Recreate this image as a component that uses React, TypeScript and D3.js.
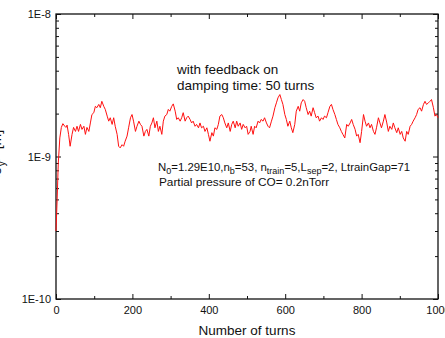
import { useEffect, useRef } from 'react';
import * as d3 from 'd3';

// ─── Data ───────────────────────────────────────────────────

const W = 445;
const H = 338;

// turn number of each sample
const turns = [
  0, 3, 6, 10, 14, 18, 23, 26, 29, 33,
  37, 42, 46, 51, 55, 59, 64, 68, 73, 77,
  81, 86, 90, 94, 99, 103, 107, 112, 116, 120,
  125, 129, 134, 138, 142, 147, 151, 155, 160, 164,
  168, 173, 177, 181, 186, 190, 195, 199, 203, 208,
  212, 217, 221, 225, 230, 234, 238, 243, 247, 251,
  255, 259, 264, 268, 272, 277, 281, 285, 290, 294,
  298, 303, 307, 312, 316, 320, 325, 329, 333, 338,
  342, 346, 351, 355, 359, 364, 368, 373, 377, 381,
  386, 390, 395, 399, 403, 408, 412, 416, 421, 425,
  429, 434, 438, 442, 447, 451, 456, 460, 464, 469,
  473, 477, 482, 486, 490, 495, 499, 503, 508, 511,
  516, 520, 524, 529, 533, 537, 542, 546, 551, 555,
  559, 564, 568, 573, 577, 581, 586, 590, 594, 599,
  603, 607, 612, 616, 620, 625, 629, 634, 638, 642,
  647, 651, 655, 660, 664, 668, 673, 677, 681, 686,
  690, 695, 699, 703, 708, 712, 717, 721, 725, 730,
  734, 738, 743, 747, 751, 756, 761, 765, 770, 774,
  778, 783, 787, 791, 796, 800, 805, 809, 813, 818,
  822, 826, 831, 835, 839, 844, 848, 852, 857, 861,
  866, 870, 874, 879, 883, 887, 892, 896, 901, 905,
  909, 914, 918, 922, 927, 931, 935, 940, 944, 948,
  953, 957, 962, 966, 970, 975, 979, 983, 988, 992,
  996, 1000,
];

// vertical size, in units of 1E-9
const sigmaY = [
  0.30, 0.50, 0.90, 1.35, 1.60, 1.70, 1.63, 1.60, 1.66, 1.43,
  1.18, 1.43, 1.60, 1.50, 1.63, 1.50, 1.68, 1.55, 1.63, 1.43,
  1.60, 1.50, 1.72, 1.97, 2.03, 2.25, 2.20, 2.32, 2.20, 2.44,
  2.25, 2.14, 1.92, 1.77, 1.87, 1.68, 1.87, 1.63, 1.43, 1.18,
  1.15, 1.21, 1.18, 1.28, 1.39, 1.59, 1.87, 1.97, 1.77, 1.50,
  1.63, 1.77, 1.68, 1.63, 1.39, 1.50, 1.55, 1.39, 1.63, 1.72,
  1.87, 1.59, 1.77, 1.50, 1.63, 1.43, 1.77, 1.92, 1.97, 2.14,
  2.08, 2.25, 2.34, 2.08, 1.82, 1.87, 1.77, 1.87, 2.03, 1.77,
  1.87, 1.92, 1.82, 1.72, 1.77, 1.63, 1.68, 1.59, 1.72, 1.59,
  1.63, 1.50, 1.59, 1.43, 1.28, 1.47, 1.39, 1.59, 1.55, 1.68,
  1.92, 1.97, 1.87, 1.72, 1.59, 1.72, 1.50, 1.68, 1.77, 1.59,
  1.77, 1.63, 1.72, 1.55, 1.68, 1.59, 1.63, 1.43, 1.50, 1.63,
  1.43, 1.63, 1.59, 1.77, 1.72, 1.82, 1.77, 1.87, 1.72, 1.63,
  1.59, 1.77, 1.92, 2.20, 2.38, 2.58, 2.72, 2.51, 2.32, 1.97,
  1.82, 1.63, 1.77, 1.59, 1.47, 1.68, 2.08, 2.25, 2.08, 2.38,
  2.51, 2.44, 2.20, 1.97, 2.08, 1.92, 2.20, 2.03, 1.87, 1.92,
  1.77, 1.87, 1.82, 1.92, 1.87, 2.03, 2.25, 2.32, 2.14, 1.97,
  1.82, 1.68, 1.59, 1.50, 1.43, 1.35, 1.68, 1.63, 1.72, 1.82,
  1.68, 1.55, 1.39, 1.43, 1.25, 1.50, 1.97, 1.77, 1.63, 1.72,
  1.59, 1.68, 1.50, 1.43, 1.59, 1.87, 1.72, 1.59, 1.77, 1.97,
  1.72, 1.50, 1.63, 1.55, 1.72, 1.59, 1.47, 1.59, 1.43, 1.50,
  1.35, 1.28, 1.50, 1.43, 1.63, 1.68, 1.77, 1.87, 1.97, 2.14,
  2.20, 2.08, 2.32, 2.44, 2.32, 2.38, 2.44, 2.51, 2.20, 1.92,
  1.97, 1.87,
];

const xMajorTicks = [0, 200, 400, 600, 800, 1000];
const xMinorTicks = [100, 300, 500, 700, 900];
const yMajorTicks = [1e-10, 1e-9, 1e-8];
const yTickLabels = ['1E-10', '1E-9', '1E-8'];
const xTitle = 'Number of turns';
const noteLines = ['with feedback on', 'damping time: 50 turns'];
// [text, isSubscript]
const paramLine: [string, boolean][] = [
  ['N', false], ['0', true], ['=1.29E10,n', false], ['b', true],
  ['=53, n', false], ['train', true], ['=5,L', false], ['sep', true],
  ['=2, LtrainGap=71', false],
];
const pressureLine = 'Partial pressure of CO= 0.2nTorr';

const FONT = '"Liberation Sans", Arial, sans-serif';

// ─── Component ──────────────────────────────────────────────

export default function App() {
  const svgRef = useRef<SVGSVGElement>(null);

  useEffect(() => {
    if (!svgRef.current) return;
    const svg = d3.select(svgRef.current);
    svg.selectAll('*').remove();

    const left = 56, right = 438, top = 14, bottom = 299;

    const x = d3.scaleLinear().domain([0, 1000]).range([left, right]);
    const y = d3.scaleLog().domain([1e-10, 1e-8]).range([bottom, top]);

    const yMinorTicks = [1e-10, 1e-9].flatMap((d) => d3.range(2, 10).map((k) => k * d));

    const styleAxis = (sel: d3.Selection<SVGGElement, unknown, null, undefined>) => {
      sel.select('.domain').remove();
      sel.selectAll('line').attr('stroke', '#111').attr('stroke-width', 1);
      sel.selectAll('text').attr('fill', '#111').attr('font-size', '11px').attr('font-family', FONT);
    };

    // Bottom axis
    svg.append('g').attr('transform', `translate(0,${bottom})`)
      .call(d3.axisBottom(x).tickValues(xMajorTicks).tickSize(-5).tickPadding(7).tickFormat(d3.format('d')))
      .call(styleAxis);
    svg.append('g').attr('transform', `translate(0,${bottom})`)
      .call(d3.axisBottom(x).tickValues(xMinorTicks).tickSize(-3).tickFormat(() => ''))
      .call(styleAxis);

    // Top axis
    svg.append('g').attr('transform', `translate(0,${top})`)
      .call(d3.axisTop(x).tickValues(xMajorTicks).tickSize(-5).tickFormat(() => ''))
      .call(styleAxis);
    svg.append('g').attr('transform', `translate(0,${top})`)
      .call(d3.axisTop(x).tickValues(xMinorTicks).tickSize(-3).tickFormat(() => ''))
      .call(styleAxis);

    // Left axis
    svg.append('g').attr('transform', `translate(${left},0)`)
      .call(d3.axisLeft(y).tickValues(yMajorTicks).tickSize(-5).tickPadding(5)
        .tickFormat((_, i) => yTickLabels[i]))
      .call(styleAxis);
    svg.append('g').attr('transform', `translate(${left},0)`)
      .call(d3.axisLeft(y).tickValues(yMinorTicks).tickSize(-3).tickFormat(() => ''))
      .call(styleAxis);

    // Right axis
    svg.append('g').attr('transform', `translate(${right},0)`)
      .call(d3.axisRight(y).tickValues(yMajorTicks).tickSize(-5).tickFormat(() => ''))
      .call(styleAxis);
    svg.append('g').attr('transform', `translate(${right},0)`)
      .call(d3.axisRight(y).tickValues(yMinorTicks).tickSize(-3).tickFormat(() => ''))
      .call(styleAxis);

    // Frame
    svg.append('rect')
      .attr('x', left).attr('y', top)
      .attr('width', right - left).attr('height', bottom - top)
      .attr('fill', 'none').attr('stroke', '#111').attr('stroke-width', 1.3);

    // Data line
    const pts = d3.zip(turns, sigmaY) as [number, number][];
    const line = d3.line<[number, number]>()
      .x((d) => x(d[0]))
      .y((d) => y(d[1] * 1e-9));
    svg.append('path')
      .datum(pts)
      .attr('d', line)
      .attr('fill', 'none')
      .attr('stroke', '#ff1010')
      .attr('stroke-width', 1)
      .attr('stroke-linejoin', 'round');

    // Axis titles
    svg.append('text')
      .attr('x', (left + right) / 2).attr('y', 335)
      .attr('text-anchor', 'middle')
      .attr('font-family', FONT).attr('font-size', '13.5px').attr('fill', '#111')
      .text(xTitle);

    // y title is mostly cut off by the left edge, as in the original
    const yt = svg.append('text')
      .attr('transform', `translate(0.5,${(top + bottom) / 2}) rotate(-90)`)
      .attr('text-anchor', 'middle')
      .attr('font-family', FONT).attr('font-size', '14px').attr('fill', '#111');
    yt.append('tspan').text('<σ');
    yt.append('tspan').attr('font-size', '10px').attr('dy', 4).text('y');
    yt.append('tspan').attr('dy', -4).text('> [m]');

    // Annotations
    svg.append('g').selectAll('text')
      .data(noteLines)
      .join('text')
      .attr('x', 177).attr('y', (_, i) => 74 + i * 15.5)
      .attr('font-family', FONT).attr('font-size', '13.5px').attr('fill', '#111')
      .text((d) => d);

    const pl = svg.append('text')
      .attr('x', 158).attr('y', 170.5)
      .attr('font-family', FONT).attr('font-size', '11.4px').attr('fill', '#111');
    let shifted = false;
    paramLine.forEach(([t, sub]) => {
      const ts = pl.append('tspan').text(t);
      if (sub && !shifted) { ts.attr('dy', 3).attr('font-size', '9px'); shifted = true; }
      else if (sub) ts.attr('font-size', '9px');
      else if (shifted) { ts.attr('dy', -3); shifted = false; }
    });

    svg.append('text')
      .attr('x', 159).attr('y', 186)
      .attr('font-family', FONT).attr('font-size', '11.8px').attr('fill', '#111')
      .text(pressureLine);
  }, []);

  return (
    <div style={{ position: 'absolute', left: 0, top: 0, width: W, height: H, background: '#fff', overflow: 'hidden' }}>
      <svg ref={svgRef} width={W} height={H} />
    </div>
  );
}
